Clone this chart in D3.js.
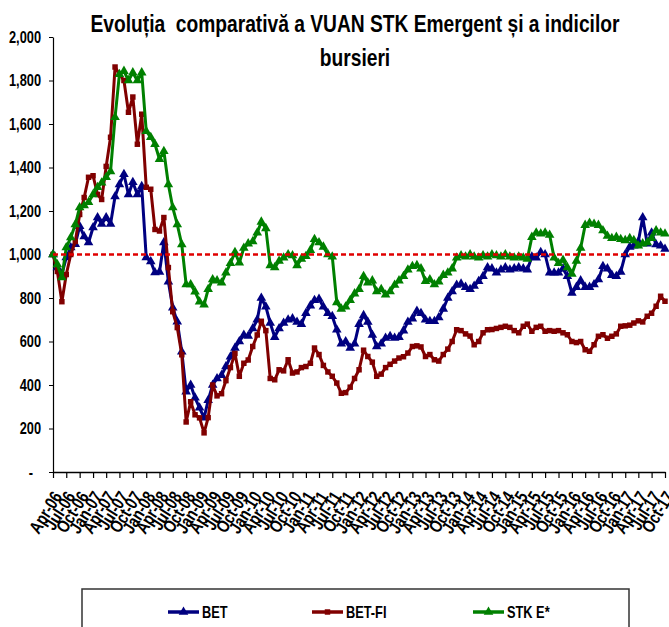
<!DOCTYPE html>
<html>
<head>
<meta charset="utf-8">
<script src="https://cdn.jsdelivr.net/npm/d3@7"></script>
<style>
body { margin: 0; background: #fff; }
text { font-family: "Liberation Sans", Arial, sans-serif; font-weight: bold; fill: #000; }
</style>
</head>
<body>
<script>
// monthly points, Apr-06 .. Oct-17
var firstMonth = new Date(2006, 3, 1);
var lastMonth = new Date(2017, 9, 1);
var months = d3.timeMonth.range(firstMonth, d3.timeMonth.offset(lastMonth, 1));

var betValues = [1000,940,910,986,1032,1047,1130,1083,1055,1124,1170,1140,1170,1140,1267,1322,1369,1276,1332,1276,
  1313,986,968,917,920,1055,875,755,691,553,369,400,341,295,249,330,400,430,445,485,
  530,570,600,630,625,660,700,800,760,685,620,660,685,700,705,690,680,730,765,790,
  795,760,730,716,654,590,600,570,590,680,720,690,630,577,590,616,624,616,620,650,
  690,705,740,730,700,693,693,710,750,800,830,860,865,850,840,855,877,900,940,935,
  916,930,940,930,935,940,935,930,990,985,1010,1000,916,916,916,935,900,823,850,880,
  850,850,862,885,946,935,905,900,920,1000,1035,1040,1060,1170,1050,1100,1046,1040,1025];

var betFiValues = [1000,922,783,908,1000,1060,1184,1262,1355,1362,1276,1253,1405,1539,1862,1829,1800,1654,1724,1507,
  1645,1309,1300,1115,1108,1170,940,737,664,539,230,323,263,249,180,250,400,350,360,420,
  480,545,440,500,515,577,630,693,650,430,424,470,465,516,455,460,480,485,500,570,
  540,490,460,440,409,362,365,390,430,470,560,531,505,440,450,480,495,510,524,530,
  547,577,580,575,531,540,516,510,540,565,600,654,650,635,625,585,600,640,654,655,
  660,665,670,665,650,640,670,680,647,665,670,647,650,647,650,640,631,600,595,600,
  562,555,585,624,631,615,624,635,670,672,675,685,695,690,716,730,762,808,785];

var stkValues = [1000,954,894,1032,1078,1138,1216,1225,1240,1276,1309,1330,1355,1382,1631,1829,1843,1800,1836,1800,
  1836,1567,1539,1507,1438,1475,1322,1216,1138,1046,862,862,829,783,769,840,885,880,870,916,
  960,1010,962,1030,1050,1060,1100,1150,1120,950,940,970,985,1000,995,950,980,992,1020,1070,
  1055,1035,1000,990,780,750,760,790,820,840,900,870,880,830,840,815,830,860,880,900,
  930,946,950,935,877,885,862,875,905,916,935,985,995,990,1000,990,985,995,990,1000,
  995,990,1000,990,985,990,985,980,1080,1100,1095,1100,1090,985,960,975,940,910,970,1030,
  1135,1145,1140,1135,1110,1085,1075,1080,1070,1065,1075,1065,1040,1050,1055,1075,1110,1100,1095];

var seriesNames = ["BET", "BET-FI", "STK E*"];
var seriesColors = ["#000080", "#800000", "#008000"];
var seriesMarkers = ["triangle", "square", "triangle"];
var yTicks = [0, 200, 400, 600, 800, 1000, 1200, 1400, 1600, 1800, 2000];
var baseLevel = 1000;
var titleLines = ["Evoluția  comparativă a VUAN STK Emergent și a indicilor", "bursieri"];

var width = 669, height = 627;
var plotLeft = 53, plotRight = 665, plotTop = 37, plotBottom = 472;
var narrow = "scale(0.8,1)";   // no Arial Narrow here, squeeze Liberation Sans instead

var svg = d3.select("body").append("svg")
  .attr("width", width)
  .attr("height", height);

var x = d3.scaleTime().domain([firstMonth, lastMonth]).range([plotLeft, plotRight]);
var y = d3.scaleLinear().domain([0, 2000]).range([plotBottom, plotTop]);

// title
svg.selectAll(".title")
  .data(titleLines)
  .enter()
  .append("text")
  .attr("class", "title")
  .attr("transform", function (d, i) { return "translate(355," + (32 + i * 34) + ") " + narrow; })
  .attr("text-anchor", "middle")
  .style("font-size", "24px")
  .style("white-space", "pre")
  .text(function (d) { return d; });

// y axis
var yAxis = svg.append("g")
  .attr("transform", "translate(" + plotLeft + ",0)")
  .call(d3.axisLeft(y).tickValues(yTicks).tickSize(4).tickSizeOuter(0)
    .tickFormat(function (d) { return d === 0 ? "-" : d3.format(",")(d); }));
yAxis.select(".domain").attr("stroke", "#000").attr("stroke-width", 1.2);
yAxis.selectAll("text")
  .attr("x", 0)
  .attr("transform", function (d) { return "translate(" + (d === 0 ? -20 : -12) + ",0) " + narrow; })
  .style("font-size", "16px")
  .style("font-family", "\"Liberation Sans\", Arial, sans-serif")
  .style("font-weight", "bold");

// x axis
var xAxis = svg.append("g")
  .attr("transform", "translate(0," + plotBottom + ")")
  .call(d3.axisBottom(x).ticks(d3.timeMonth.every(3)).tickSize(6).tickSizeOuter(0)
    .tickFormat(d3.timeFormat("%b-%y")));
xAxis.select(".domain").attr("stroke", "#000").attr("stroke-width", 1.5);
xAxis.selectAll(".tick line").attr("stroke-width", 1.2);
xAxis.selectAll("text")
  .attr("x", 0)
  .attr("y", 0)
  .attr("dy", "0.35em")
  .attr("transform", "translate(4,21) rotate(-58) " + narrow)
  .style("text-anchor", "end")
  .style("font-size", "18px")
  .style("font-family", "\"Liberation Sans\", Arial, sans-serif")
  .style("font-weight", "bold");

var allSeries = [betValues, betFiValues, stkValues];

var line = d3.line()
  .x(function (d, i) { return x(months[i]); })
  .y(function (d) { return y(d); });

var triangle = d3.symbol().type(d3.symbolTriangle).size(40);
var square = d3.symbol().type(d3.symbolSquare).size(30);

allSeries.forEach(function (values, s) {
  svg.append("path")
    .datum(values)
    .attr("fill", "none")
    .attr("stroke", seriesColors[s])
    .attr("stroke-width", 3)
    .attr("stroke-linejoin", "round")
    .attr("d", line);

  svg.append("g")
    .selectAll("path")
    .data(values)
    .enter()
    .append("path")
    .attr("d", seriesMarkers[s] === "square" ? square : triangle)
    .attr("fill", seriesColors[s])
    .attr("transform", function (d, i) { return "translate(" + x(months[i]) + "," + y(d) + ")"; });
});

// 1000 reference line
svg.append("line")
  .attr("x1", plotLeft)
  .attr("x2", plotRight)
  .attr("y1", y(baseLevel))
  .attr("y2", y(baseLevel))
  .attr("stroke", "#e00000")
  .attr("stroke-width", 2.5)
  .attr("stroke-dasharray", "5,3");

// legend
svg.append("rect")
  .attr("x", 82)
  .attr("y", 589)
  .attr("width", 547)
  .attr("height", 60)
  .attr("fill", "none")
  .attr("stroke", "#333")
  .attr("stroke-width", 1.5);

var legendX = [168, 312, 473];
var legend = svg.selectAll(".legend")
  .data(seriesNames)
  .enter()
  .append("g")
  .attr("transform", function (d, i) { return "translate(" + legendX[i] + ",612)"; });

legend.append("line")
  .attr("x1", 0).attr("x2", 31)
  .attr("stroke", function (d, i) { return seriesColors[i]; })
  .attr("stroke-width", 3.5);
legend.append("path")
  .attr("transform", "translate(15.5,0)")
  .attr("d", function (d, i) { return seriesMarkers[i] === "square" ? square() : triangle(); })
  .attr("fill", function (d, i) { return seriesColors[i]; });
legend.append("text")
  .attr("transform", "translate(34,0) " + narrow)
  .attr("dy", "0.35em")
  .style("font-size", "16px")
  .text(function (d) { return d; });
</script>
</body>
</html>
